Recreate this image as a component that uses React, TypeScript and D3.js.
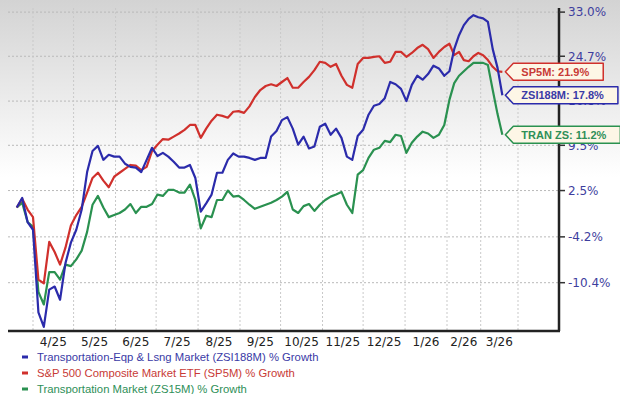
import React, { useEffect, useRef } from 'react';
import * as d3 from 'd3';

const W = 620;
const H = 394;

// samples every 4 days starting 2025-03-20
const START = new Date(2025, 2, 20);
const STEP_DAYS = 4;

const monthLabels = ['4/25', '5/25', '6/25', '7/25', '8/25', '9/25', '10/25', '11/25', '12/25', '1/26', '2/26', '3/26'];
const yTicks = [33.0, 24.7, 16.8, 9.5, 2.5, -4.2, -10.4];

// % growth
const zsi188m = [
  0.0, 1.4, -2.1, -3.2, -14.2, -16.0, -11.3, -10.9, -12.6, -7.8, -5.0, -3.2,
  -0.3, 5.3, 8.6, 9.4, 7.2, 8.0, 7.7, 7.7, 6.6, 6.1, 6.0, 5.3,
  7.2, 9.1, 7.8, 8.3, 7.7, 6.9, 6.0, 6.0, 6.4, 4.4, -0.6, 0.6,
  1.9, 5.2, 5.2, 7.2, 8.2, 7.7, 7.7, 7.5, 7.2, 7.5, 7.5, 10.9,
  11.8, 13.6, 14.1, 12.2, 9.6, 10.9, 9.0, 9.3, 12.5, 13.0, 11.2, 12.2,
  10.7, 7.7, 7.2, 11.0, 12.0, 14.5, 16.0, 16.3, 17.3, 20.1, 19.7, 18.9,
  16.8, 19.6, 21.2, 20.5, 21.5, 23.0, 22.5, 21.2, 22.0, 26.0, 28.6, 30.5,
  31.7, 32.4, 32.0, 31.8, 31.1, 26.0, 22.6, 17.8
];

const sp5m = [
  0.0, 1.3, -0.3, -1.4, -10.0, -10.5, -4.9, -6.3, -8.0, -5.7, -2.6, -1.1,
  0.1, 2.2, 4.4, 5.2, 4.0, 3.0, 4.6, 5.2, 5.8, 6.4, 6.3, 5.6,
  6.1, 8.6, 9.6, 10.5, 10.4, 10.9, 11.4, 12.0, 12.8, 12.8, 10.7, 12.2,
  13.5, 14.5, 14.3, 14.0, 15.0, 15.1, 14.8, 15.9, 17.5, 18.7, 19.4, 19.7,
  19.4, 20.1, 20.8, 19.1, 19.1, 20.1, 21.0, 22.2, 23.7, 23.5, 22.8, 23.3,
  21.2, 19.6, 19.1, 23.3, 24.4, 24.4, 24.6, 24.7, 23.5, 23.7, 25.5, 25.5,
  24.6, 25.3, 26.2, 26.8, 26.0, 24.4, 25.5, 26.4, 27.0, 24.9, 25.5, 24.0,
  23.8, 24.7, 25.3, 24.9, 24.0, 22.8, 22.0, 21.9
];

const zs15m = [
  0.0, 0.7, -2.1, -2.8, -11.6, -13.2, -9.0, -9.0, -10.0, -8.0, -8.2, -7.3,
  -6.1, -3.5, 0.4, 1.7, 0.0, -1.4, -1.1, -0.8, -0.3, 0.5, -0.8, 0.1,
  0.1, 0.5, 1.9, 1.7, 2.6, 2.6, 2.2, 2.2, 3.4, 1.1, -3.0, -1.2,
  -1.4, 1.1, 1.1, 2.5, 1.6, 1.7, 1.1, 0.4, -0.2, 0.1, 0.4, 0.7,
  1.1, 1.6, 2.3, -0.3, -0.8, 0.2, 0.5, -0.5, 0.4, 1.1, 1.6, 1.9,
  2.3, 0.4, -0.8, 4.9, 5.6, 7.5, 8.8, 9.1, 10.2, 10.0, 11.2, 11.0,
  8.3, 9.9, 10.9, 11.7, 11.4, 10.7, 11.2, 12.8, 17.0, 19.9, 21.2, 22.0,
  22.8, 23.5, 23.5, 23.5, 23.1, 18.7, 14.6, 11.2
];

const series = [
  { values: zs15m, tag: 'TRAN ZS', color: '#2a9150', legend: 'Transportation Market (ZS15M) % Growth', text: '#2e8f58' },
  { values: sp5m, tag: 'SP5M', color: '#d0302c', legend: 'S&P 500 Composite Market ETF (SP5M) % Growth', text: '#c83a36' },
  { values: zsi188m, tag: 'ZSI188M', color: '#2b2bab', legend: 'Transportation-Eqp & Lsng Market (ZSI188M) % Growth', text: '#3a3aa6' },
];
const legendOrder = [2, 1, 0];

export default function App() {
  const ref = useRef<SVGSVGElement>(null);

  useEffect(() => {
    const svg = d3.select(ref.current);
    svg.selectAll('*').remove();

    const left = 8, right = 559, top = 8, bottom = 331;

    const dates = d3.range(sp5m.length).map(i => d3.timeDay.offset(START, i * STEP_DAYS));
    const months = d3.timeMonth.range(new Date(2025, 3, 1), new Date(2026, 4, 1));

    // the chart squeezes Feb/Mar a little, so the time scale is piecewise
    const x = d3.scaleTime()
      .domain([new Date(2025, 3, 1), new Date(2026, 1, 1), new Date(2026, 3, 1)])
      .range([33, 447, 518]);
    // log scale on growth factor
    const y = d3.scaleLog().domain([0.835, 1.338]).range([bottom, top]);
    const yv = (v: number) => y(1 + v / 100);

    const grad = svg.append('defs').append('linearGradient')
      .attr('id', 'bg').attr('x1', 0).attr('y1', 0).attr('x2', 0).attr('y2', 1);
    grad.append('stop').attr('offset', 0).attr('stop-color', '#d3d3d3');
    grad.append('stop').attr('offset', 0.45).attr('stop-color', '#ffffff');
    svg.append('rect').attr('width', W).attr('height', H).attr('fill', 'url(#bg)');

    // grid
    svg.append('g').selectAll('line').data(yTicks).enter().append('line')
      .attr('x1', left).attr('x2', right)
      .attr('y1', d => yv(d)).attr('y2', d => yv(d))
      .attr('stroke', '#b9b9b9').attr('stroke-dasharray', '2,2');
    svg.append('g').selectAll('line').data(months).enter().append('line')
      .attr('x1', d => x(d)).attr('x2', d => x(d))
      .attr('y1', top).attr('y2', bottom)
      .attr('stroke', '#c9c9c9').attr('stroke-dasharray', '2,2');

    // lines
    const line = d3.line<number>()
      .x((d, i) => x(dates[i]))
      .y(d => yv(d));
    series.forEach(s => {
      svg.append('path').datum(s.values)
        .attr('d', line)
        .attr('fill', 'none')
        .attr('stroke', s.color)
        .attr('stroke-width', 2.2)
        .attr('stroke-linejoin', 'round');
    });

    // axes
    svg.append('line').attr('x1', left).attr('x2', right + 1).attr('y1', bottom).attr('y2', bottom)
      .attr('stroke', '#222').attr('stroke-width', 2.5);
    svg.append('line').attr('x1', right).attr('x2', right).attr('y1', top).attr('y2', bottom)
      .attr('stroke', '#222').attr('stroke-width', 2.5);

    const yAx = svg.append('g');
    yAx.selectAll('line').data(yTicks).enter().append('line')
      .attr('x1', right).attr('x2', right + 6)
      .attr('y1', d => yv(d)).attr('y2', d => yv(d))
      .attr('stroke', '#333').attr('stroke-width', 1.5);
    yAx.selectAll('text').data(yTicks).enter().append('text')
      .attr('x', right + 9).attr('y', d => yv(d)).attr('dy', '0.36em')
      .attr('fill', '#3e3e9e').attr('font-size', 12)
      .attr('font-family', 'DejaVu Sans, Verdana, sans-serif')
      .text(d => d.toFixed(1) + '%');

    svg.append('g').selectAll('text').data(monthLabels).enter().append('text')
      .attr('x', (d, i) => (x(months[i]) + x(months[i + 1])) / 2)
      .attr('y', 346)
      .attr('text-anchor', 'middle')
      .attr('fill', '#222').attr('font-size', 12)
      .attr('font-family', 'DejaVu Sans, Verdana, sans-serif')
      .text(d => d);

    // end labels
    series.forEach(s => {
      const last = s.values[s.values.length - 1];
      const px = x(dates[dates.length - 1]) + 3;
      const py = yv(last);
      const g = svg.append('g');
      const path = g.append('path');
      const t = g.append('text')
        .attr('x', px + 16).attr('y', py).attr('dy', '0.36em')
        .attr('fill', s.text).attr('font-size', 11).attr('font-weight', 'bold')
        .attr('font-family', 'Liberation Sans, Arial, sans-serif')
        .text(`${s.tag}: ${last.toFixed(1)}%`);
      const w = (t.node() as SVGTextElement).getComputedTextLength() + 22;
      const hh = 8.5;
      path.attr('d', `M${px},${py}L${px + 8},${py - hh}H${px + 8 + w}V${py + hh}H${px + 8}Z`)
        .attr('fill', '#fdf6e6').attr('stroke', s.color).attr('stroke-width', 1.5)
        .attr('stroke-linejoin', 'round');
    });

    // legend
    const lg = svg.append('g');
    legendOrder.forEach((k, i) => {
      const s = series[k];
      const ly = 357 + i * 16;
      lg.append('line').attr('x1', 22).attr('x2', 28).attr('y1', ly).attr('y2', ly)
        .attr('stroke', s.color).attr('stroke-width', 3);
      lg.append('text').attr('x', 37).attr('y', ly).attr('dy', '0.36em')
        .attr('fill', s.text).attr('font-size', 11.3)
        .attr('font-family', 'Liberation Sans, Arial, sans-serif')
        .text(s.legend);
    });
  }, []);

  return (
    <svg ref={ref} width={W} height={H} style={{ position: 'absolute', left: 0, top: 0 }} />
  );
}
